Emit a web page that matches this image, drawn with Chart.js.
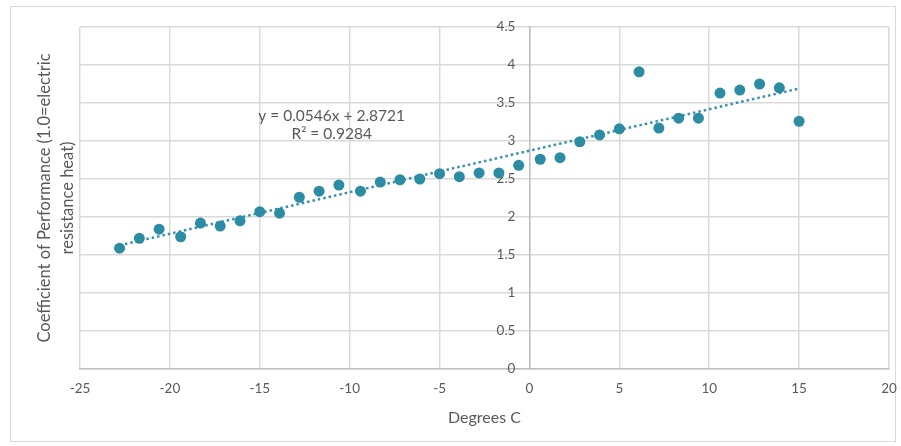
<!DOCTYPE html>
<html><head><meta charset="utf-8">
<script src="https://cdn.jsdelivr.net/npm/chart.js@4/dist/chart.umd.min.js"></script>
<style>html,body{margin:0;padding:0;background:#fff}#wrap{width:901px;height:446px;position:relative}</style>
</head><body><div id="wrap"><canvas id="c" width="901" height="446"></canvas></div>
<script>
const temperaturesC = [-22.8, -21.7, -20.6, -19.4, -18.3, -17.2, -16.1, -15.0, -13.9, -12.8, -11.7, -10.6, -9.4, -8.3, -7.2, -6.1, -5.0, -3.9, -2.8, -1.7, -0.6, 0.6, 1.7, 2.8, 3.9, 5.0, 6.1, 7.2, 8.3, 9.4, 10.6, 11.7, 12.8, 13.9, 15.0];
const cop = [1.59, 1.72, 1.84, 1.74, 1.92, 1.88, 1.95, 2.07, 2.05, 2.26, 2.34, 2.42, 2.34, 2.46, 2.49, 2.50, 2.57, 2.53, 2.58, 2.58, 2.68, 2.76, 2.78, 2.99, 3.08, 3.16, 3.91, 3.17, 3.30, 3.30, 3.63, 3.67, 3.75, 3.70, 3.26];
const xTicks = [-25, -20, -15, -10, -5, 0, 5, 10, 15, 20];
const yTicks = [0, 0.5, 1, 1.5, 2, 2.5, 3, 3.5, 4, 4.5];
const trendSlope = 0.0546;
const trendIntercept = 2.8721;
const trendXRange = [-22.8, 15.0];
const equationLines = ["y = 0.0546x + 2.8721", "R\u00b2 = 0.9284"];
const equationAnchor = {x: -11, y: 3.33};
const xTitle = "Degrees C";
const yTitleLines = ["Coefficient of Performance (1.0=electric", "resistance heat)"];

const TEXT = '#595959';
const FONT = 'Lato, "Open Sans", sans-serif';
const Y_LABEL_GAP = 14;
const trendData = trendXRange.map(x => ({x: x, y: trendSlope * x + trendIntercept}));
const points = temperaturesC.map((x, i) => ({x: x, y: cop[i]}));

const extras = {
  id: 'extras',
  beforeDraw(chart) {
    const ctx = chart.ctx;
    ctx.save();
    ctx.fillStyle = '#fff';
    ctx.fillRect(0, 0, chart.width, chart.height);
    ctx.strokeStyle = '#d9d9d9';
    ctx.lineWidth = 1;
    ctx.strokeRect(10.5, 6.5, 885, 435);
    ctx.restore();
  },
  afterDraw(chart) {
    const ctx = chart.ctx;
    const xs = chart.scales.x, ys = chart.scales.y;
    ctx.save();
    ctx.fillStyle = TEXT;
    ctx.textAlign = 'center';
    ctx.textBaseline = 'middle';
    ctx.font = '15.5px ' + FONT;
    const ex = xs.getPixelForValue(equationAnchor.x);
    const ey = ys.getPixelForValue(equationAnchor.y);
    ctx.fillText(equationLines[0], ex, ey);
    ctx.fillText(equationLines[1], ex, ey + 18);
    ctx.translate(0, (chart.chartArea.top + chart.chartArea.bottom) / 2);
    ctx.rotate(-Math.PI / 2);
    ctx.font = '16.5px ' + FONT;
    ctx.fillText(yTitleLines[0], 0, 45);
    ctx.fillText(yTitleLines[1], 0, 68);
    ctx.restore();
  }
};

function zeroPad(s) { s.paddingLeft = 0; s.paddingRight = 0; s.paddingTop = 0; s.paddingBottom = 0; }

new Chart(document.getElementById('c'), {
  type: 'scatter',
  data: {
    datasets: [
      {label: 'COP', data: points, backgroundColor: '#2b8ca3', borderWidth: 0, pointRadius: 5.5, pointHoverRadius: 5.5},
      {type: 'line', label: 'Trend', data: trendData, borderColor: '#3592aa', borderWidth: 2.5, borderDash: [2.5, 3], pointRadius: 0, fill: false}
    ]
  },
  options: {
    responsive: false,
    animation: false,
    devicePixelRatio: 1,
    layout: {padding: {left: 80, right: 12, top: 27, bottom: 19}},
    plugins: {legend: {display: false}, tooltip: {enabled: false}},
    scales: {
      x: {
        type: 'linear', position: 'bottom', min: -25, max: 20,
        afterBuildTicks: s => { s.ticks = xTicks.map(v => ({value: v})); },
        afterFit: s => { s.height = 58; zeroPad(s); },
        ticks: {color: TEXT, font: {family: FONT, size: 13.5}, padding: 12, callback: v => String(v)},
        grid: {color: '#d9d9d9', lineWidth: 1.5, drawTicks: false},
        border: {color: '#bfbfbf', width: 1.5},
        title: {display: true, text: xTitle, color: TEXT, font: {family: FONT, size: 16}, padding: {top: 8, bottom: 0}}
      },
      y: {
        type: 'linear', position: {x: 0}, min: 0, max: 4.5,
        afterBuildTicks: s => { s.ticks = yTicks.map(v => ({value: v})); },
        afterFit: s => {
          zeroPad(s);
          s.width = 0;
          if (!s._gapPatched && typeof s._computeLabelItems === 'function') {
            const orig = s._computeLabelItems;
            s._computeLabelItems = function (area) {
              const items = orig.call(this, area);
              items.forEach(it => { if (it.options && it.options.translation) it.options.translation[0] -= Y_LABEL_GAP; });
              return items;
            };
            s._gapPatched = true;
          }
        },
        ticks: {color: TEXT, font: {family: FONT, size: 13.5}, padding: 12, callback: v => String(v)},
        grid: {color: '#d9d9d9', lineWidth: 1.5, drawTicks: false},
        border: {color: '#bfbfbf', width: 1.5}
      }
    }
  },
  plugins: [extras]
});
</script></body></html>
